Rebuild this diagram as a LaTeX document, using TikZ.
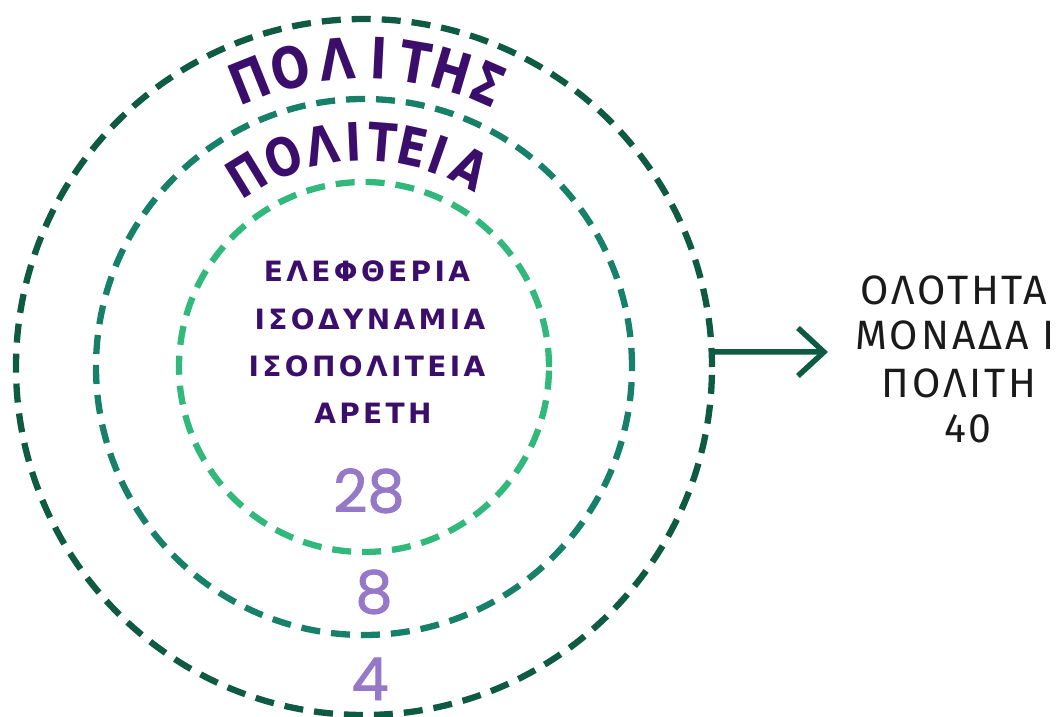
\documentclass[tikz,border=0pt]{standalone}
\usepackage{fontspec}
\usetikzlibrary{arrows.meta,calc}
\newfontfamily\arcfont{DejaVu Sans}[UprightFont={* Bold}]
\newfontfamily\innerfont{DejaVu Sans}[LetterSpace=12]
\newfontfamily\rightfont{Fira Sans}[LetterSpace=7]
\newfontfamily\numfont{Poppins}[FakeBold=1.5]
\newcommand{\narrowglyph}[1]{\scalebox{0.8}[1]{#1}}
\definecolor{ringdark}{HTML}{0E5A43}
\definecolor{ringmid}{HTML}{178069}
\definecolor{ringlight}{HTML}{30B97A}
\definecolor{txtpurple}{HTML}{3B0E6B}
\definecolor{numlav}{HTML}{9678C8}
\definecolor{txtdark}{HTML}{1A1A1A}
\begin{document}
\begin{tikzpicture}[x=1pt,y=1pt,
  ringstyle/.style={dash pattern=on 19pt off 11pt, line width=6.3pt},
  arctxtA/.style={anchor=base, inner sep=0pt, text=txtpurple, font=\arcfont\fontsize{57}{57}\selectfont},
  arctxtB/.style={anchor=base, inner sep=0pt, text=txtpurple, font=\arcfont\fontsize{53}{53}\selectfont},
  innertxt/.style={anchor=base, inner sep=0pt, text=txtpurple, font=\innerfont\bfseries\fontsize{28}{28}\selectfont},
  righttxt/.style={anchor=base, inner sep=0pt, text=txtdark, font=\rightfont\fontsize{41}{41}\selectfont},
  numtxt/.style={anchor=base, inner sep=0pt, text=numlav, font=\numfont\fontsize{59}{59}\selectfont},
  arrowline/.style={draw=ringdark, line width=5.5pt, -{Straight Barb[length=26pt,width=48pt]}}
]
\useasboundingbox (0,0) rectangle (1058,716);
\coordinate (C) at (364,349);
\draw[ringstyle, draw=ringdark] (C) circle[radius=348];
\draw[ringstyle, draw=ringmid] (C) circle[radius=268];
\draw[ringstyle, draw=ringlight] (C) circle[radius=185];

\foreach \ch/\ang [count=\i] in {Π/111.8, Ο/103.9, Λ/95.0, Ι/87.2, Τ/80.4, Η/73.5, Σ/66.4}
  \node[arctxtA, rotate=\ang-90] (pa\i) at ($(C)+(\ang:288)$) {\narrowglyph{\ch}};
\foreach \ch/\ang [count=\i] in {Π/121.5, Ο/111.1, Λ/100.8, Ι/92.6, Τ/85.4, Ε/77.6, Ι/70.6, Α/61.8}
  \node[arctxtB, rotate=\ang-90] (pb\i) at ($(C)+(\ang:206)$) {\narrowglyph{\ch}};

\node[innertxt] (l1) at (367,434) {ΕΛΕΦΘΕΡΙΑ};
\node[innertxt] (l2) at (370,386) {ΙΣΟΔΥΝΑΜΙΑ};
\node[innertxt] (l3) at (367,339) {ΙΣΟΠΟΛΙΤΕΙΑ};
\node[innertxt] (l4) at (373,293) {ΑΡΕΤΗ};

\node[numtxt] (n28) at (369,204) {28};
\node[numtxt] (n8) at (374,103) {8};
\node[numtxt] (n4) at (370,16) {4};

\node[righttxt] (r1) at (954,411) {ΟΛΟΤΗΤΑ};
\node[righttxt] (r2) at (955,366) {ΜΟΝΑΔΑ Ι};
\node[righttxt] (r3) at (959,319) {ΠΟΛΙΤΗ};
\node[righttxt] (r4) at (968,273) {40};

\coordinate (a0) at ($(C)+(2.5:348)$);
\coordinate (a1) at (828,364);
\draw[arrowline] (a0) -- (a1);
\end{tikzpicture}
\end{document}
